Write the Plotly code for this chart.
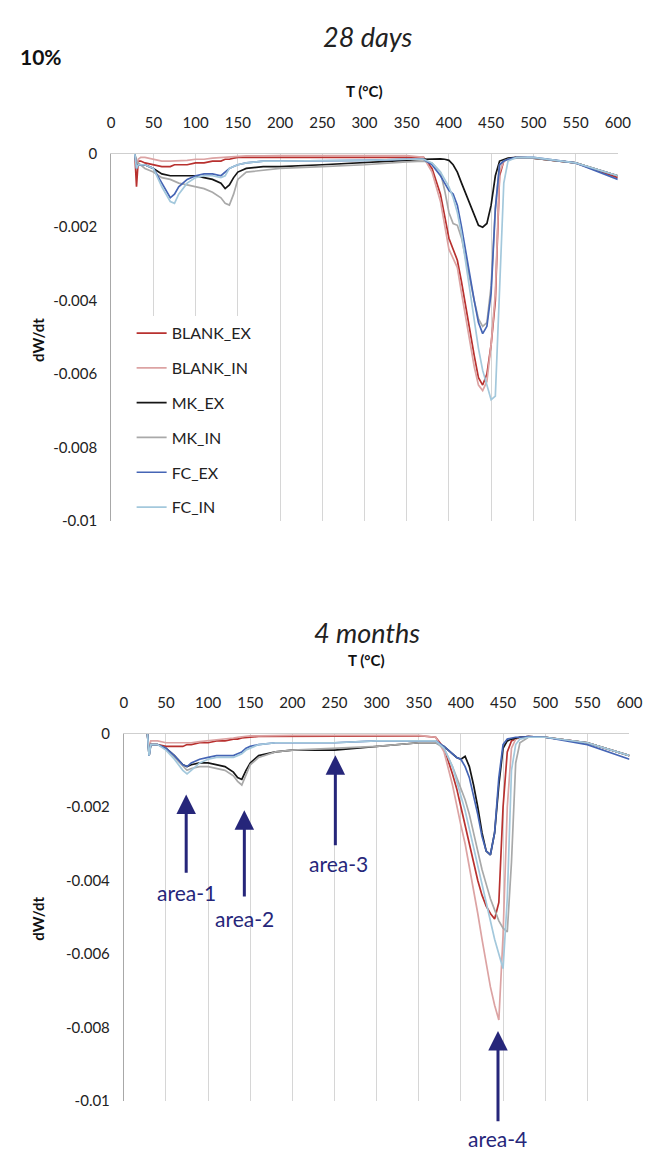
import plotly.graph_objects as go

# ---------------- data ----------------
temps = [28, 30, 32, 35, 40, 50, 60, 70, 75, 80, 90, 100, 110, 120, 130, 135, 140, 145, 150, 160,
         180, 200, 250, 300, 350, 370, 380, 390, 395, 400, 405, 410, 415, 420, 425, 430, 435, 440,
         445, 450, 455, 460, 465, 470, 480, 500, 550, 600]

series_names = ["BLANK_EX", "BLANK_IN", "MK_EX", "MK_IN", "FC_EX", "FC_IN"]

# 28 days
d28_blank_ex = [0, -0.0009, -0.0002, -0.0002, -0.00025, -0.0003, -0.00035, -0.00035, -0.0003, -0.0003,
                -0.0003, -0.00025, -0.00025, -0.0002, -0.0002, -0.00015, -0.00015, -0.00012, -0.0001, -0.0001,
                -0.0001, -0.0001, -0.0001, -0.00008, -0.00008, -0.0001, -0.0004, -0.0011, -0.0017, -0.0023,
                -0.0026, -0.0029, -0.0035, -0.0042, -0.0049, -0.0055, -0.0061, -0.0063, -0.0060, -0.0052,
                -0.0040, -0.0006, -0.0002, -0.00015, -0.0001, -0.00012, -0.00025, -0.00065]
d28_blank_in = [0, -0.0004, -0.00015, -0.0001, -0.0001, -0.00015, -0.0002, -0.0002, -0.0002, -0.0002,
                -0.00018, -0.00015, -0.00015, -0.00012, -0.0001, -0.0001, -0.0001, -0.00008, -0.00006, -0.00006,
                -0.00006, -0.00005, -0.00005, -0.00005, -0.00005, -0.0001, -0.0005, -0.0013, -0.0020, -0.0026,
                -0.00285, -0.0031, -0.0038, -0.0045, -0.0052, -0.0058, -0.0063, -0.00645, -0.0062, -0.0052,
                -0.0038, -0.0005, -0.0002, -0.00015, -0.0001, -0.00012, -0.00025, -0.0006]
d28_mk_ex = [0, -0.0003, -0.0003, -0.0003, -0.0003, -0.0004, -0.00055, -0.0006, -0.0006, -0.0006,
             -0.0006, -0.0006, -0.00065, -0.0007, -0.0008, -0.00095, -0.00085, -0.00065, -0.0005, -0.0004,
             -0.00035, -0.00035, -0.0003, -0.00025, -0.00018, -0.00015, -0.00014, -0.00014, -0.00015, -0.00018,
             -0.0003, -0.0005, -0.0008, -0.0011, -0.0014, -0.0017, -0.00195, -0.0020, -0.0019, -0.0014,
             -0.0006, -0.0002, -0.00015, -0.00012, -0.0001, -0.00012, -0.00025, -0.0006]
d28_mk_in = [0, -0.0002, -0.00025, -0.0003, -0.0004, -0.0005, -0.00065, -0.0007, -0.00075, -0.0008,
             -0.00085, -0.0009, -0.00095, -0.00105, -0.0012, -0.00135, -0.0014, -0.0011, -0.0007, -0.0005,
             -0.00045, -0.0004, -0.00035, -0.0003, -0.00022, -0.0002, -0.00025, -0.0005, -0.0010, -0.0016,
             -0.0019, -0.00195, -0.0023, -0.0029, -0.0035, -0.0040, -0.0045, -0.0047, -0.0046, -0.0036,
             -0.0015, -0.0003, -0.0002, -0.00015, -0.00012, -0.00012, -0.00025, -0.0006]
d28_fc_ex = [0, -0.0004, -0.0003, -0.0003, -0.0003, -0.0004, -0.0008, -0.0012, -0.0011, -0.0009,
             -0.0007, -0.0006, -0.00055, -0.00055, -0.0006, -0.0005, -0.0004, -0.00035, -0.0003, -0.00025,
             -0.0002, -0.0002, -0.0002, -0.00018, -0.00015, -0.00015, -0.0003, -0.0006, -0.0008, -0.0010,
             -0.0011, -0.0014, -0.0020, -0.0027, -0.0034, -0.0040, -0.0046, -0.0049, -0.0047, -0.0038,
             -0.0015, -0.0003, -0.0002, -0.00015, -0.0001, -0.0001, -0.00025, -0.0007]
d28_fc_in = [0, -0.0004, -0.0003, -0.0003, -0.0003, -0.0004, -0.0009, -0.0013, -0.00135, -0.0011,
             -0.0008, -0.00065, -0.0006, -0.0006, -0.00065, -0.0006, -0.0004, -0.00035, -0.0003, -0.00025,
             -0.0002, -0.0002, -0.0002, -0.00018, -0.00015, -0.00015, -0.00025, -0.0005, -0.0007, -0.0009,
             -0.0012, -0.0016, -0.0022, -0.0030, -0.0038, -0.0046, -0.0053, -0.0059, -0.0063, -0.0067,
             -0.0066, -0.0035, -0.0008, -0.0002, -0.0001, -0.0001, -0.00025, -0.0006]

# 4 months
m4_blank_ex = [0, -0.0005, -0.0003, -0.0003, -0.0003, -0.00035, -0.00035, -0.00035, -0.0003, -0.0003,
               -0.00025, -0.00025, -0.0002, -0.0002, -0.00015, -0.00015, -0.00012, -0.0001, -0.0001, -0.00008,
               -0.00008, -0.00008, -0.00006, -0.00006, -0.00006, -0.0001, -0.0004, -0.0011, -0.0015, -0.0020,
               -0.0025, -0.0030, -0.0035, -0.0040, -0.0044, -0.0047, -0.0049, -0.00505, -0.0046, -0.0020,
               -0.0005, -0.0002, -0.00015, -0.0001, -0.00008, -0.0001, -0.00025, -0.0006]
m4_blank_in = [0, -0.0004, -0.0002, -0.0002, -0.0002, -0.00025, -0.00025, -0.00025, -0.00025, -0.00025,
               -0.00022, -0.0002, -0.00018, -0.00015, -0.00012, -0.0001, -0.00008, -0.00007, -0.00006, -0.00006,
               -0.00005, -0.00005, -0.00005, -0.00005, -0.00005, -0.0001, -0.0005, -0.0014, -0.0020, -0.0025,
               -0.0030, -0.0036, -0.0042, -0.0049, -0.0056, -0.0063, -0.0069, -0.0074, -0.0078, -0.0055,
               -0.0020, -0.0004, -0.00015, -0.0001, -0.00008, -0.0001, -0.00025, -0.0006]
m4_mk_ex = [0, -0.0006, -0.0003, -0.0003, -0.0003, -0.0004, -0.0006, -0.00085, -0.0009, -0.00085,
            -0.0008, -0.0008, -0.00085, -0.0009, -0.00105, -0.0012, -0.00125, -0.0010, -0.0008, -0.0006,
            -0.0005, -0.00045, -0.00045, -0.00035, -0.00025, -0.00025, -0.00035, -0.00055, -0.00065, -0.0007,
            -0.00062, -0.0009, -0.0014, -0.0020, -0.0027, -0.0032, -0.0033, -0.0027, -0.0014, -0.0004,
            -0.0002, -0.00015, -0.00012, -0.0001, -0.00008, -0.0001, -0.00025, -0.0006]
m4_mk_in = [0, -0.0006, -0.0003, -0.0003, -0.0003, -0.0004, -0.00065, -0.0009, -0.0010, -0.00095,
            -0.0009, -0.0009, -0.00095, -0.0010, -0.00115, -0.0013, -0.0014, -0.0011, -0.00085, -0.00065,
            -0.0005, -0.00045, -0.0004, -0.00035, -0.00025, -0.00025, -0.0004, -0.0009, -0.0012, -0.0015,
            -0.0018, -0.0022, -0.0027, -0.0032, -0.0037, -0.0041, -0.0045, -0.0048, -0.0051, -0.0053,
            -0.0054, -0.0035, -0.0008, -0.00025, -0.0001, -0.0001, -0.00025, -0.0006]
m4_fc_ex = [0, -0.0006, -0.0003, -0.0003, -0.0003, -0.0004, -0.0006, -0.00085, -0.0009, -0.0008,
            -0.0007, -0.00065, -0.0006, -0.0006, -0.0006, -0.00055, -0.0005, -0.0004, -0.00035, -0.0003,
            -0.00025, -0.00025, -0.00025, -0.0002, -0.0002, -0.0002, -0.00035, -0.00055, -0.00065, -0.0007,
            -0.0009, -0.0012, -0.0017, -0.0022, -0.0028, -0.0032, -0.0033, -0.0027, -0.0012, -0.0003,
            -0.00015, -0.00012, -0.0001, -0.0001, -0.00008, -0.0001, -0.0003, -0.0007]
m4_fc_in = [0, -0.0006, -0.0003, -0.0003, -0.0003, -0.00045, -0.0007, -0.0010, -0.0011, -0.0010,
            -0.0008, -0.0007, -0.00065, -0.00065, -0.00065, -0.0006, -0.00055, -0.00045, -0.0004, -0.0003,
            -0.00025, -0.00025, -0.00025, -0.0002, -0.0002, -0.0002, -0.0004, -0.0009, -0.0013, -0.0017,
            -0.0021, -0.0026, -0.0031, -0.0036, -0.0041, -0.0046, -0.0051, -0.0056, -0.0060, -0.0064,
            -0.0045, -0.0010, -0.0003, -0.00015, -0.0001, -0.0001, -0.00025, -0.0006]

x_ticks = [0, 50, 100, 150, 200, 250, 300, 350, 400, 450, 500, 550, 600]
y_ticks = [0, -0.002, -0.004, -0.006, -0.008, -0.01]
y_ticktext = ["0", "-0.002", "-0.004", "-0.006", "-0.008", "-0.01"]

colors = ["#b8312f", "#dca3a3", "#151515", "#a9a9a9", "#4565b5", "#a3c8dc"]

d28 = [d28_blank_ex, d28_blank_in, d28_mk_ex, d28_mk_in, d28_fc_ex, d28_fc_in]
m4 = [m4_blank_ex, m4_blank_in, m4_mk_ex, m4_mk_in, m4_fc_ex, m4_fc_in]
for s in d28 + m4:
    assert len(s) == len(temps), len(s)

FONT = "Lato"
W, H = 660, 1158

def px(v):
    return v / W

def py(v):
    return 1 - v / H

fig = go.Figure()
for name, col, ys in zip(series_names, colors, d28):
    fig.add_trace(go.Scatter(x=temps, y=ys, mode="lines", name=name, legendgroup=name,
                             line=dict(color=col, width=1.7), xaxis="x", yaxis="y"))
for name, col, ys in zip(series_names, colors, m4):
    fig.add_trace(go.Scatter(x=temps, y=ys, mode="lines", name=name, showlegend=False,
                             line=dict(color=col, width=1.7), xaxis="x2", yaxis="y2"))

common_x = dict(range=[0, 600], tickmode="array", tickvals=x_ticks, side="top",
                showgrid=True, gridcolor="#d6d6d6", gridwidth=1, zeroline=False,
                showline=True, linecolor="#cfcfcf", linewidth=1, ticks="",
                tickfont=dict(family=FONT, size=15, color="#222"), ticklabelstandoff=19)
common_y = dict(range=[-0.01, 0], tickmode="array", tickvals=y_ticks, ticktext=y_ticktext,
                showgrid=False, zeroline=False, showline=True, linecolor="#a8a8a8", linewidth=1,
                ticks="", tickfont=dict(family=FONT, size=15, color="#222"), ticklabelstandoff=10)

fig.update_layout(
    width=W, height=H, margin=dict(l=0, r=0, t=0, b=0),
    paper_bgcolor="white", plot_bgcolor="white",
    font=dict(family=FONT, color="#222"),
    xaxis=dict(domain=[px(110), px(630)], anchor="y", **common_x),
    yaxis=dict(domain=[py(519), py(146)], anchor="x", **common_y),
    xaxis2=dict(domain=[px(123), px(642)], anchor="y2", **common_x),
    yaxis2=dict(domain=[py(1108), py(735)], anchor="x2", **common_y),
    showlegend=True,
    legend=dict(x=px(131), y=py(311), xanchor="left", yanchor="top", bgcolor="white",
                font=dict(family=FONT, size=16, color="#222"), tracegroupgap=11, itemwidth=30),
)

def label(text, x, y, size, color="#222", angle=0):
    return dict(text=text, x=px(x), y=py(y), xref="paper", yref="paper", xanchor="center",
                yanchor="middle", textangle=angle, showarrow=False,
                font=dict(family=FONT, size=size, color=color))

ann = [
    label("<i>28 days</i>", 373, 27, 27),
    label("<b>10%</b>", 38, 47, 21, "#111"),
    label("<b>T (°C)</b>", 370, 82, 15, "#111"),
    label("<i>4 months</i>", 373, 632, 27),
    label("<b>T (°C)</b>", 372, 660, 15, "#111"),
    label("<b>dW/dt</b>", 35, 335, 15, "#111", -90),
    label("<b>dW/dt</b>", 35, 923, 15, "#111", -90),
]

NAVY = "#26267a"
arrows = [  # (T, tip, tail, text, label_T, label_y)
    (74, -0.00166, -0.00383, "area-1", 74, -0.00434),
    (143, -0.00209, -0.00448, "area-2", 143, -0.00504),
    (251, -0.00059, -0.00308, "area-3", 255, -0.00354),
    (444, -0.0081, -0.0106, "area-4", None, None),
]
for t, tip, tail, txt, lt, ly in arrows:
    ann.append(dict(x=t, y=tip, ax=t, ay=tail, xref="x2", yref="y2", axref="x2", ayref="y2",
                    text="", showarrow=True, arrowhead=2, arrowsize=1.3, arrowwidth=3,
                    arrowcolor=NAVY, standoff=0, startstandoff=0))
    if lt is not None:
        ann.append(dict(x=lt, y=ly, xref="x2", yref="y2", text=txt, showarrow=False,
                        xanchor="center", yanchor="middle",
                        font=dict(family=FONT, size=21, color=NAVY)))
    else:
        ann.append(label(txt, 507, 1146, 21, NAVY))

fig.update_layout(annotations=ann)
fig.write_html("out.html")
